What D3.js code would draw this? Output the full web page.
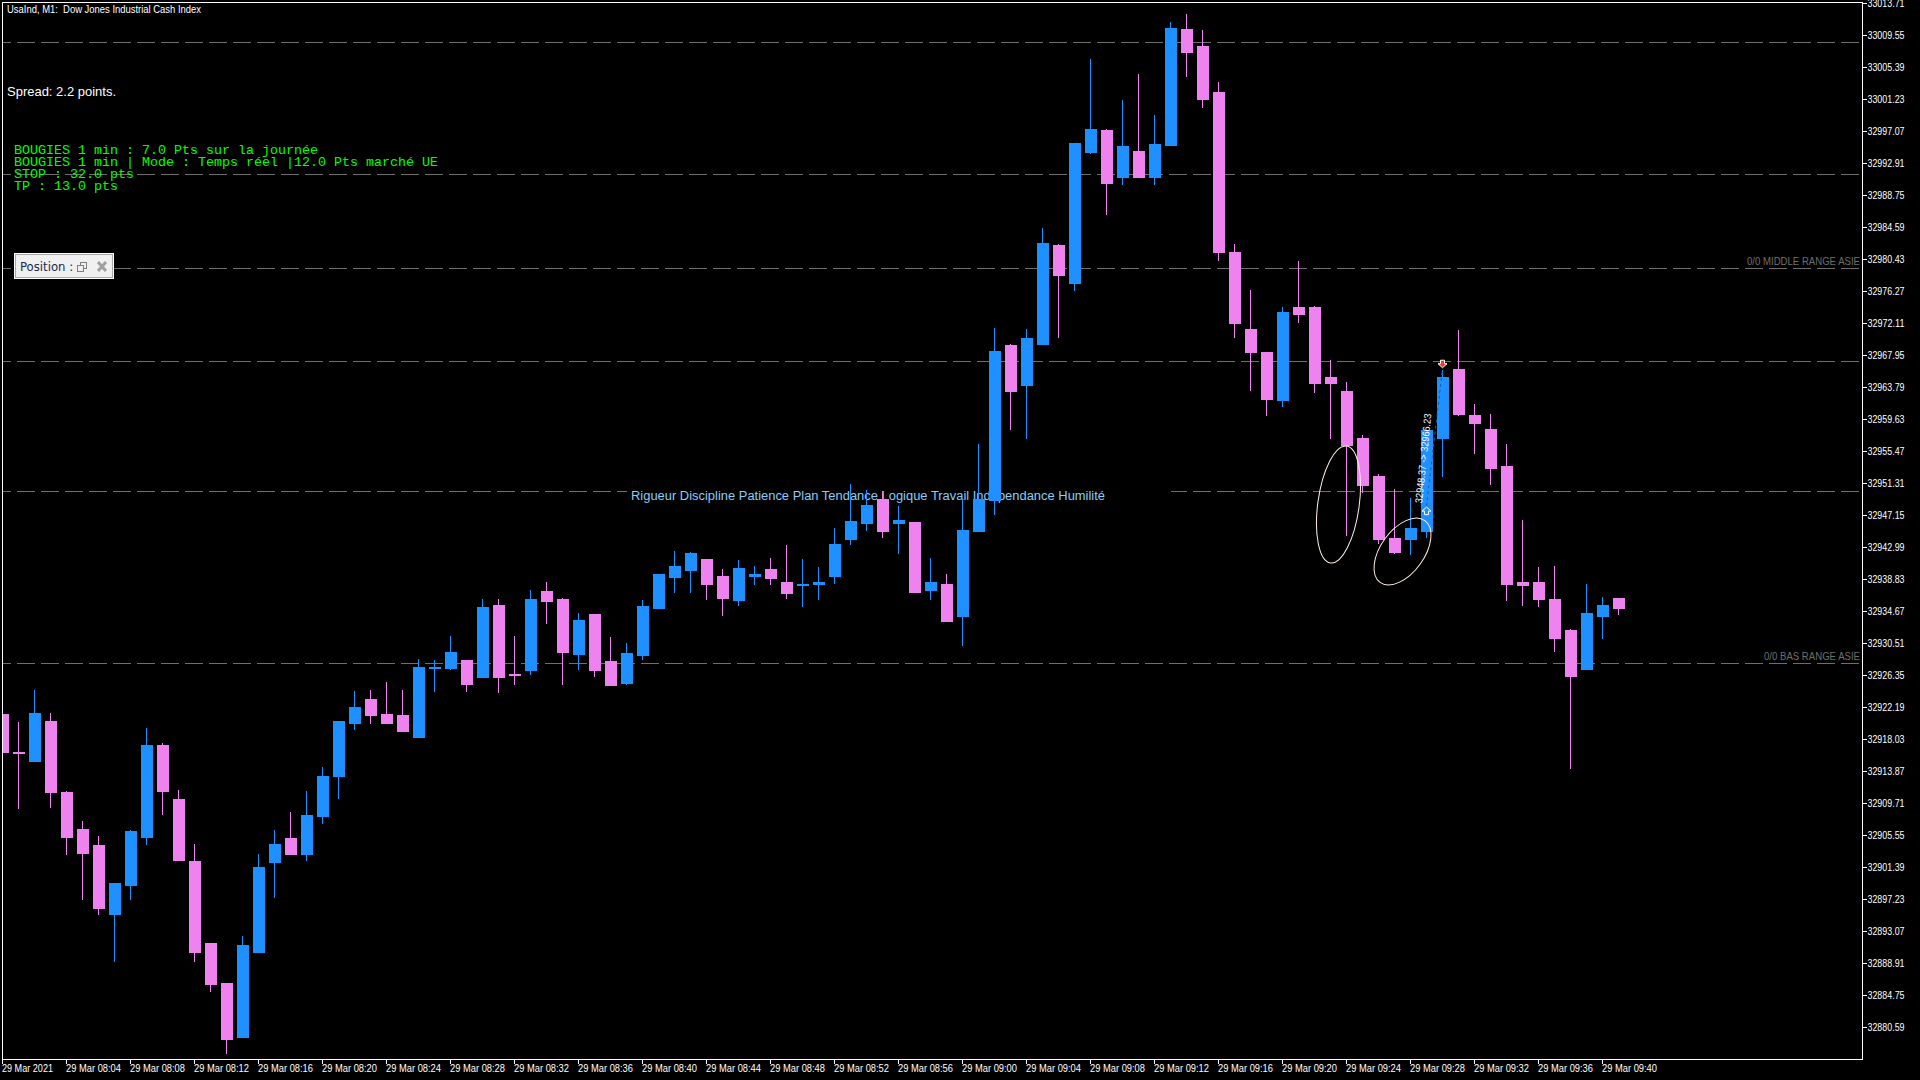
<!DOCTYPE html>
<html><head><meta charset="utf-8">
<script src="https://cdn.jsdelivr.net/npm/d3@7/dist/d3.min.js"></script>
<style>
html,body{margin:0;padding:0;background:#000;overflow:hidden;width:1920px;height:1080px}
svg{display:block}
text{font-family:"Liberation Sans",Arial,sans-serif;white-space:pre}
</style></head><body><svg id="c" width="1920" height="1080"></svg>
<script>
const opens=[32921.35,32916.41,32915.11,32920.44,32911.21,32906.40,32904.32,32895.22,32898.99,32905.23,32917.32,32910.30,32902.24,32891.58,32886.38,32879.23,32890.28,32901.98,32905.23,32903.02,32907.96,32913.16,32920.05,32923.30,32921.35,32921.22,32918.23,32927.20,32927.20,32928.37,32926.03,32935.52,32926.55,32926.94,32937.34,32936.30,32929.02,32934.35,32928.24,32925.25,32928.89,32935.00,32939.03,32939.94,32941.50,32939.29,32936.04,32939.16,32940.20,32938.51,32937.99,32938.12,32939.16,32943.97,32946.05,32949.30,32946.05,32946.31,32937.34,32938.25,32933.96,32945.01,32949.04,32969.32,32963.99,32969.32,32982.32,32977.25,32994.28,32997.27,32991.03,32994.54,32991.03,32995.19,33010.40,33008.19,33002.21,32981.41,32971.40,32968.41,32962.04,32974.26,32974.26,32965.16,32963.34,32957.23,32952.29,32944.23,32943.97,32945.01,32957.10,32966.20,32960.22,32958.40,32953.59,32938.51,32938.51,32936.30,32932.27,32927.07,32933.96,32936.43];
const highs=[32921.35,32920.31,32924.47,32921.48,32911.34,32907.44,32905.49,32899.38,32906.27,32919.53,32917.58,32911.47,32904.45,32891.58,32886.38,32892.49,32903.15,32906.27,32908.61,32911.34,32914.46,32920.44,32924.34,32924.47,32925.51,32924.47,32928.50,32928.37,32931.49,32928.37,32936.30,32936.30,32931.49,32937.47,32938.51,32936.43,32934.48,32934.35,32931.36,32930.58,32936.17,32939.55,32942.54,32942.41,32941.50,32940.20,32941.37,32940.59,32941.63,32943.32,32941.50,32940.46,32945.53,32951.25,32950.47,32950.34,32948.39,32946.31,32941.63,32939.55,32949.30,32956.45,32971.53,32969.45,32971.40,32984.53,32982.45,32995.58,33006.50,32997.40,33001.17,33004.55,32999.22,33011.31,33012.35,33010.27,33003.51,32982.45,32976.47,32968.41,32974.26,32980.24,32974.39,32967.37,32964.51,32957.62,32952.55,32950.60,32949.43,32958.27,32966.07,32971.27,32961.65,32960.35,32956.45,32946.57,32940.46,32940.59,32932.40,32938.25,32936.56,32936.43];
const lows=[32916.28,32909.00,32915.11,32909.13,32903.02,32897.17,32895.22,32889.11,32897.17,32904.32,32908.22,32902.24,32889.11,32885.21,32877.15,32879.23,32890.28,32897.43,32903.02,32902.24,32907.05,32910.30,32919.27,32920.05,32920.05,32919.01,32918.23,32924.21,32927.07,32924.21,32926.03,32924.08,32925.12,32926.42,32933.05,32925.12,32927.07,32926.16,32924.99,32925.12,32928.37,32935.00,32937.08,32937.08,32936.17,32934.09,32935.39,32938.12,32938.12,32936.30,32935.26,32936.17,32938.25,32943.32,32945.14,32944.23,32942.15,32937.08,32936.17,32933.31,32930.19,32945.01,32947.22,32958.27,32957.10,32969.32,32970.23,32976.34,32994.15,32986.22,32990.12,32991.03,32990.12,32995.19,33004.16,33000.13,32980.24,32970.23,32963.34,32960.09,32961.26,32972.18,32963.08,32957.10,32944.49,32950.08,32943.45,32942.15,32942.02,32944.23,32952.16,32960.09,32955.15,32951.12,32936.04,32935.39,32935.26,32929.41,32914.20,32927.07,32931.10,32934.22];
const closes=[32916.28,32916.15,32921.48,32911.08,32905.23,32903.15,32896.00,32899.38,32906.14,32917.32,32911.21,32902.24,32890.28,32886.12,32878.97,32891.32,32901.46,32904.45,32903.02,32908.22,32913.29,32920.44,32922.26,32921.09,32920.05,32919.01,32927.46,32927.46,32929.41,32925.12,32935.26,32926.03,32926.29,32936.30,32935.91,32929.28,32933.57,32926.94,32924.99,32929.28,32935.39,32939.55,32940.59,32942.28,32938.12,32936.30,32940.33,32939.55,32938.90,32936.95,32938.25,32938.51,32943.45,32946.44,32948.52,32945.01,32946.57,32937.08,32938.51,32933.31,32945.27,32949.30,32968.54,32963.21,32970.23,32982.58,32978.29,32995.58,32997.40,32990.25,32995.19,32991.03,32995.45,33010.53,33007.28,33001.17,32981.28,32972.05,32968.28,32962.17,32973.61,32973.22,32964.25,32964.25,32956.19,32950.99,32943.97,32942.28,32945.53,32958.27,32965.16,32960.22,32959.05,32953.20,32938.12,32937.99,32936.17,32931.10,32926.16,32934.48,32935.52,32935.00];
const bullish=[0,0,1,0,0,0,0,1,1,1,0,0,0,0,0,1,1,1,0,1,1,1,1,0,0,0,1,1,1,0,1,0,0,1,0,0,1,0,0,1,1,1,1,1,0,0,1,1,0,0,1,1,1,1,1,0,1,0,1,0,1,1,1,0,1,1,0,1,1,0,1,0,1,1,0,0,0,0,0,0,1,0,0,0,0,0,0,0,1,1,1,0,0,0,0,0,0,0,0,1,1,0];

const yTickValues=[33013.71,33009.55,33005.39,33001.23,32997.07,32992.91,32988.75,32984.59,32980.43,32976.27,32972.11,32967.95,32963.79,32959.63,32955.47,32951.31,32947.15,32942.99,32938.83,32934.67,32930.51,32926.35,32922.19,32918.03,32913.87,32909.71,32905.55,32901.39,32897.23,32893.07,32888.91,32884.75,32880.59];
const xTickIndex=[0,4,8,12,16,20,24,28,32,36,40,44,48,52,56,60,64,68,72,76,80,84,88,92,96,100];
const xTickLabels=["29 Mar 2021","29 Mar 08:04","29 Mar 08:08","29 Mar 08:12","29 Mar 08:16","29 Mar 08:20","29 Mar 08:24","29 Mar 08:28","29 Mar 08:32","29 Mar 08:36","29 Mar 08:40","29 Mar 08:44","29 Mar 08:48","29 Mar 08:52","29 Mar 08:56","29 Mar 09:00","29 Mar 09:04","29 Mar 09:08","29 Mar 09:12","29 Mar 09:16","29 Mar 09:20","29 Mar 09:24","29 Mar 09:28","29 Mar 09:32","29 Mar 09:36","29 Mar 09:40"];
const levelPrices=[33008.64,32991.48,32979.26,32967.17,32950.27,32927.91];
const greenLines=["BOUGIES 1 min : 7.0 Pts sur la journée","BOUGIES 1 min | Mode : Temps réel |12.0 Pts marché UE","STOP : 32.0 pts","TP : 13.0 pts"];
const mottoText="Rigueur Discipline Patience Plan Tendance Logique Travail Independance Humilité";
const tradeIndex=[89,90];
const tradePrices=[32948.37,32966.23];
const ellipseIndex=[83.5,87.5];
const ellipsePrices=[32948.58,32942.47];

const BLUE="#1E90FF",PINK="#EE82EE",GREY="#6e6e6e";
const svg=d3.select("#c");
svg.append("rect").attr("width",1920).attr("height",1080).attr("fill","#000");
const x=d3.scaleLinear().domain([0,101]).range([2,1618]);
const y=d3.scaleLinear().domain([33013.71,32880.59]).range([3.5,1027.5]);
const Y=p=>Math.round(y(p));

svg.append("clipPath").attr("id","plot").append("rect").attr("x",3).attr("y",3).attr("width",1859).attr("height",1056);
const plot=svg.append("g").attr("clip-path","url(#plot)");

// level lines
plot.append("g").selectAll("line").data(levelPrices).join("line")
  .attr("x1",-7).attr("x2",1859).attr("y1",d=>Math.floor(y(d)+.01)+.5).attr("y2",d=>Math.floor(y(d)+.01)+.5)
  .attr("stroke",GREY).attr("stroke-width",1).attr("stroke-dasharray","18,6").attr("shape-rendering","crispEdges");

// motto label with its black background
plot.append("rect").attr("x",627).attr("y",486).attr("width",544).attr("height",20).attr("fill","#000");
function fit(sel,w){return sel.attr("textLength",w).attr("lengthAdjust","spacingAndGlyphs");}
fit(plot.append("text").attr("x",631).attr("y",500).attr("fill","#87CEFA").attr("font-size",12.5).text(mottoText),474);

// candles
const idx=d3.range(opens.length);
plot.append("g").attr("shape-rendering","crispEdges").selectAll("rect").data(idx).join("rect")
  .attr("x",i=>x(i)).attr("width",1)
  .attr("y",i=>Y(highs[i])).attr("height",i=>Y(lows[i])-Y(highs[i]))
  .attr("fill",i=>bullish[i]?BLUE:PINK);
plot.append("g").attr("shape-rendering","crispEdges").selectAll("rect").data(idx).join("rect")
  .attr("x",i=>x(i)-5).attr("width",12)
  .attr("y",i=>Y(Math.max(opens[i],closes[i])))
  .attr("height",i=>Y(Math.min(opens[i],closes[i]))-Y(Math.max(opens[i],closes[i])))
  .attr("fill",i=>bullish[i]?BLUE:PINK);

// hand-drawn ellipses
const ellipseShape=[[20.7,59,7.8],[21.7,38.2,35.9]];
plot.append("g").selectAll("ellipse").data([0,1]).join("ellipse")
  .attr("rx",k=>ellipseShape[k][0]).attr("ry",k=>ellipseShape[k][1])
  .attr("transform",k=>`translate(${x(ellipseIndex[k])+.5},${y(ellipsePrices[k])}) rotate(${ellipseShape[k][2]})`)
  .attr("fill","none").attr("stroke","#fff0e8").attr("stroke-width",1);

// trade: link, arrows, label
const tx=tradeIndex.map(i=>x(i)+.5), ty=tradePrices.map(p=>y(p));
plot.append("line").attr("x1",tx[0]).attr("y1",ty[0]).attr("x2",tx[1]).attr("y2",ty[1])
  .attr("stroke","#1360a8").attr("stroke-width",1).attr("stroke-dasharray","3,3");
const arrow="M0,0L4.5,4L2,4L2,7.5L-2,7.5L-2,4L-4.5,4Z";
plot.append("path").attr("d",arrow).attr("transform",`translate(${tx[0]},${ty[0]+1})`).attr("fill",BLUE).attr("stroke","#fff");
plot.append("path").attr("d",arrow).attr("transform",`translate(${tx[1]},${ty[1]-1}) rotate(180)`).attr("fill","#E8401C").attr("stroke","#fff");
fit(plot.append("text").attr("transform","translate(1422,503.5) rotate(-84)")
  .attr("fill","#fff").attr("font-size",10).text(`${tradePrices[0]} -> ${tradePrices[1]}`),90);

// frame
svg.append("rect").attr("x",2.5).attr("y",2.5).attr("width",1860).attr("height",1057)
  .attr("fill","none").attr("stroke","#fff").attr("shape-rendering","crispEdges");

// axes
const ay=svg.append("g").attr("transform","translate(1862.5,0)")
  .call(d3.axisRight(y).tickValues(yTickValues).tickFormat(d3.format(".2f")).tickSize(4).tickPadding(1).offset(0));
ay.select(".domain").remove();
ay.selectAll("line").attr("stroke","#fff").attr("shape-rendering","crispEdges");
ay.selectAll("text").attr("fill","#fff").attr("font-size",10.5).attr("font-family","Liberation Sans").attr("textLength",37).attr("lengthAdjust","spacingAndGlyphs");

const ax=svg.append("g").attr("transform","translate(0,1059.5)")
  .call(d3.axisBottom(x).tickValues(xTickIndex).tickFormat((d,i)=>xTickLabels[i]).tickSize(4).offset(.5));
ax.select(".domain").remove();
ax.selectAll("line").attr("stroke","#fff").attr("shape-rendering","crispEdges");
ax.selectAll("text").attr("fill","#fff").attr("font-size",10.5).attr("font-family","Liberation Sans")
  .attr("text-anchor","start").attr("y",12.5).attr("dy",0).attr("x",-.5)
  .attr("textLength",(d,i)=>i===0?51:55).attr("lengthAdjust","spacingAndGlyphs");

// header text
fit(svg.append("text").attr("x",7).attr("y",13).attr("fill","#fff").attr("font-size",10.5).text("UsaInd, M1:  Dow Jones Industrial Cash Index"),194);
fit(svg.append("text").attr("x",7).attr("y",96).attr("fill","#fff").attr("font-size",13).text("Spread: 2.2 points."),109);
svg.append("g").selectAll("text").data(greenLines).join("text")
  .attr("x",14).attr("y",(d,i)=>154+12*i).attr("fill","#00FF00")
  .attr("font-size",13.33).style("font-family","'Liberation Mono',monospace").text(d=>d);

// range labels
fit(svg.append("text").attr("x",1747).attr("y",265).attr("fill",GREY).attr("font-size",10.5).text("0/0 MIDDLE RANGE ASIE"),113);
fit(svg.append("text").attr("x",1764).attr("y",660).attr("fill",GREY).attr("font-size",10.5).text("0/0 BAS RANGE ASIE"),96);

// position panel
const pn=svg.append("g");
pn.append("rect").attr("x",14).attr("y",253).attr("width",100).attr("height",26).attr("fill","#fff").attr("shape-rendering","crispEdges");
pn.append("rect").attr("x",15.5).attr("y",254.5).attr("width",97).attr("height",23).attr("fill","#f0f0f0").attr("stroke","#a8a8a8").attr("shape-rendering","crispEdges");
pn.append("clipPath").attr("id","pc").append("rect").attr("x",16).attr("y",255).attr("width",57).attr("height",22);
pn.append("g").attr("clip-path","url(#pc)").append("text").attr("x",20).attr("y",271).attr("fill","#1a2850").attr("font-size",13).style("font-family","'DejaVu Sans Condensed','Noto Sans',sans-serif").text("Position :");
pn.append("path").attr("d","M77.5,265.5h6v6h-6zM80.5,265.5v-3h6v6h-3").attr("fill","none").attr("stroke","#808080").attr("shape-rendering","crispEdges");
pn.append("path").attr("d","M98,262L106,271M106,262L98,271").attr("fill","none").attr("stroke","#a0a0a0").attr("stroke-width",3);
</script></body></html>
